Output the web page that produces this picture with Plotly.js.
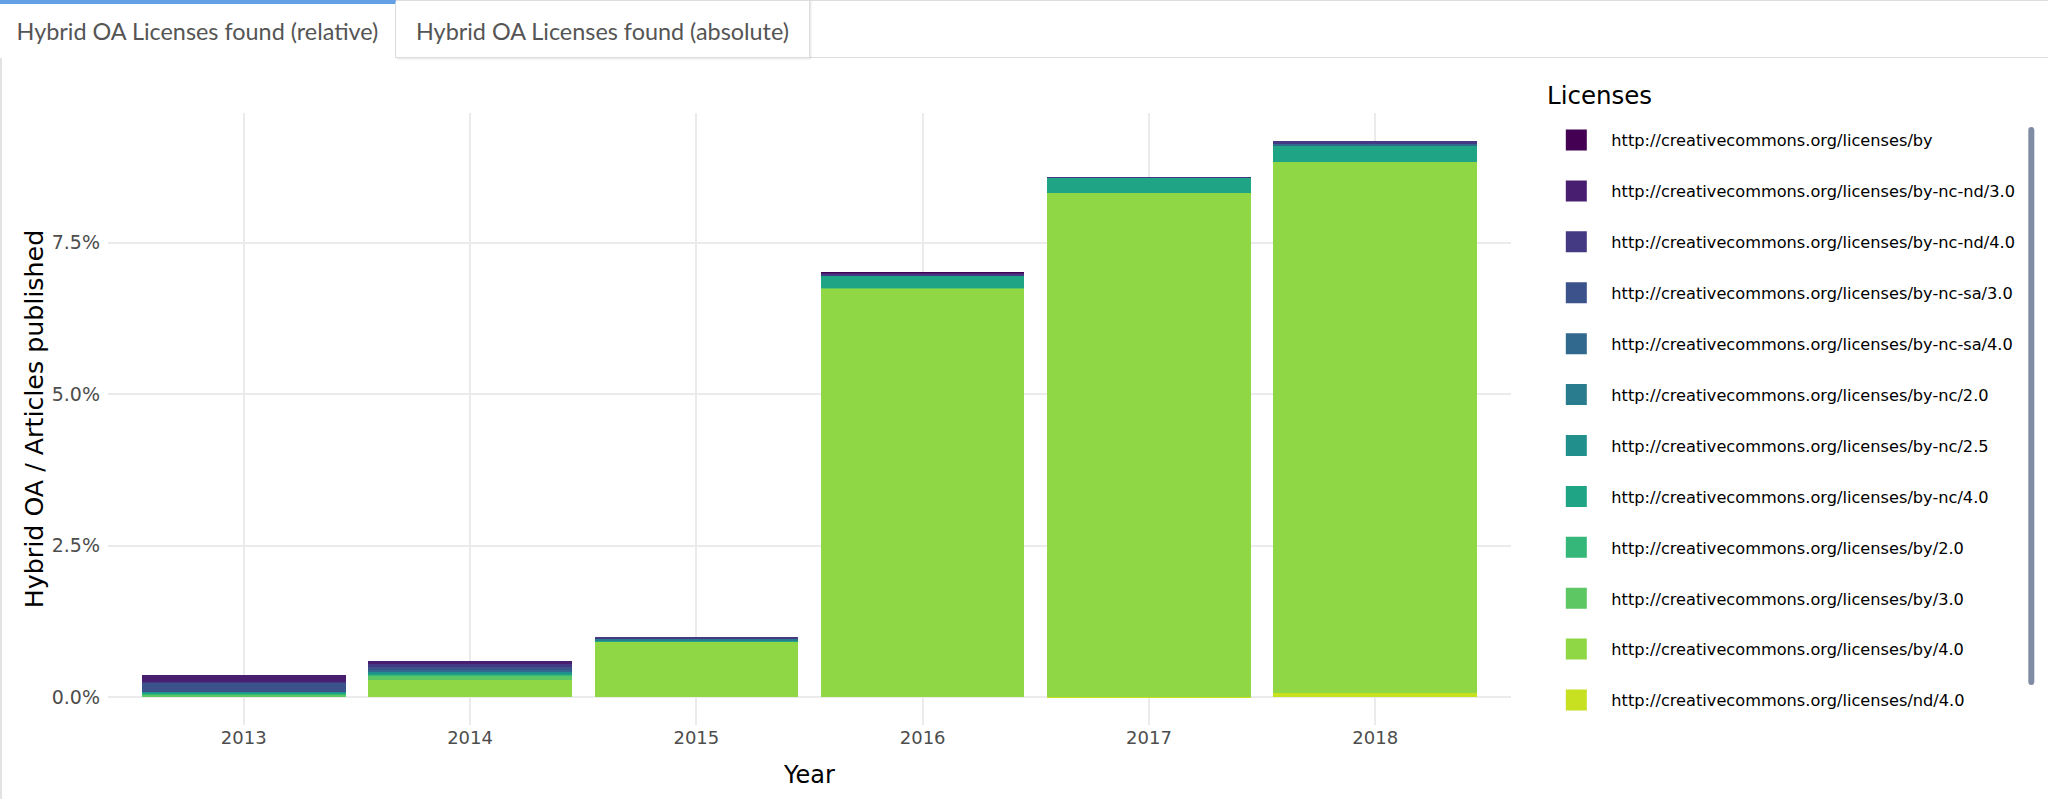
<!DOCTYPE html>
<html>
<head>
<meta charset="utf-8">
<script src="https://cdn.plot.ly/plotly-3.0.1.min.js"></script>
<style>
  html, body { margin:0; padding:0; background:#fff; width:2048px; height:799px; overflow:hidden; }
  #chart { position:absolute; left:0; top:0; width:2048px; height:799px; }
  #tabs { position:absolute; left:0; top:0; width:2048px; height:58px; z-index:10; pointer-events:none; }
  .tab { position:absolute; top:0; height:58px; box-sizing:border-box; font-family:Lato, "Open Sans", sans-serif;
         font-size:23.4px; color:#555; text-align:center; background:#fff; }
  #tab1 { left:0; width:396px; border-top:4px solid #64A0E6; border-right:1px solid #ddd; line-height:54px; }
  #tab2 { left:396px; width:414px; border:1px solid #ddd; border-left:none; height:58px; line-height:60px;
          box-shadow: 1px 1px 2px rgba(0,0,0,0.12); }
  #topline { position:absolute; left:810px; top:0; width:1238px; height:1px; background:#ddd; z-index:9; }
  #botline { position:absolute; left:396px; top:57px; width:1652px; height:1px; background:#ddd; z-index:9; }
  #leftline { position:absolute; left:0; top:58px; width:2px; height:741px; background:#e3e3e3; z-index:9; }
</style>
</head>
<body>
<div id="chart"></div>
<div id="tabs">
  <div class="tab" id="tab1">Hybrid OA Licenses found (relative)</div>
  <div class="tab" id="tab2">Hybrid OA Licenses found (absolute)</div>
</div>
<div id="topline"></div>
<div id="botline"></div>
<div id="leftline"></div>
<script>
// ---- data (share of hybrid OA articles with license, in % of articles published) ----
const years = ['2013', '2014', '2015', '2016', '2017', '2018'];

const licenses = [
  'http://creativecommons.org/licenses/by',
  'http://creativecommons.org/licenses/by-nc-nd/3.0',
  'http://creativecommons.org/licenses/by-nc-nd/4.0',
  'http://creativecommons.org/licenses/by-nc-sa/3.0',
  'http://creativecommons.org/licenses/by-nc-sa/4.0',
  'http://creativecommons.org/licenses/by-nc/2.0',
  'http://creativecommons.org/licenses/by-nc/2.5',
  'http://creativecommons.org/licenses/by-nc/4.0',
  'http://creativecommons.org/licenses/by/2.0',
  'http://creativecommons.org/licenses/by/3.0',
  'http://creativecommons.org/licenses/by/4.0',
  'http://creativecommons.org/licenses/nd/4.0',
  'http://creativecommons.org/publicdomain/zero/1.0'
];

const colors = ['#440154', '#481F70', '#443A83', '#3B528B', '#31688E', '#287C8E', '#21908C',
                '#20A486', '#35B779', '#5DC863', '#8FD744', '#C7E020', '#FDE725'];

const v_by          = [0,     0,     0,     0.01,  0,     0];
const v_bync_nd30   = [0.12,  0.055, 0,     0.01,  0,     0];
const v_bync_nd40   = [0.01,  0.05,  0.015, 0.03,  0.005, 0.035];
const v_bync_sa30   = [0.15,  0.044, 0,     0,     0,     0];
const v_bync_sa40   = [0.005, 0.028, 0,     0.005, 0,     0.035];
const v_bync20      = [0,     0,     0.03,  0,     0,     0];
const v_bync25      = [0.01,  0.028, 0,     0,     0,     0];
const v_bync40      = [0.01,  0.01,  0.01,  0.2,   0.248, 0.27];
const v_by20        = [0.033, 0.04,  0,     0,     0,     0];
const v_by30        = [0.035, 0.055, 0,     0.01,  0,     0];
const v_by40        = [0,     0.287, 0.925, 6.75,  8.31,  8.76];
const v_nd40        = [0,     0,     0,     0,     0.01,  0.07];
const v_zero        = [0,     0,     0,     0,     0,     0];

const values = [v_by, v_bync_nd30, v_bync_nd40, v_bync_sa30, v_bync_sa40, v_bync20, v_bync25,
                v_bync40, v_by20, v_by30, v_by40, v_nd40, v_zero];

const yTickVals = [0, 2.5, 5, 7.5];
const yTickText = ['0.0%', '2.5%', '5.0%', '7.5%'];

// ---- traces ----
const traces = [];
// legend entries (forward order)
licenses.forEach((lic, i) => {
  traces.push({
    type: 'scatter', mode: 'markers', x: [null], y: [null],
    name: lic, legendgroup: lic, showlegend: true, hoverinfo: 'skip',
    marker: { symbol: 'square', size: 16, color: colors[i], line: { color: colors[i], width: 5 } }
  });
});
// bars: last level first so that the first level is stacked on top
for (let i = licenses.length - 1; i >= 0; i--) {
  traces.push({
    type: 'bar', x: years, y: values[i], name: licenses[i], legendgroup: licenses[i],
    showlegend: false, marker: { color: colors[i], line: { width: 0 } }
  });
}

const layout = {
  width: 2048, height: 799,
  margin: { l: 108, r: 537, t: 113, b: 74, pad: 0 },
  paper_bgcolor: '#fff', plot_bgcolor: '#fff',
  barmode: 'stack', bargap: 0.1,
  font: { family: 'DejaVu Sans, Verdana, sans-serif', color: '#000' },
  showlegend: true,
  xaxis: {
    type: 'category', range: [-0.6, 5.6], fixedrange: true, automargin: false,
    showgrid: true, gridcolor: '#EBEBEB', gridwidth: 2, zeroline: false, showline: false,
    ticks: '', tickfont: { size: 18, color: '#4D4D4D' },
    title: { text: 'Year', font: { size: 24, color: '#000' }, standoff: 19 }
  },
  yaxis: {
    range: [-0.459, 9.64], fixedrange: true, automargin: false,
    tickmode: 'array', tickvals: yTickVals, ticktext: yTickText,
    showgrid: true, gridcolor: '#EBEBEB', gridwidth: 2, zeroline: false, showline: false,
    ticks: '', tickfont: { size: 19, color: '#4D4D4D' }, ticklabelstandoff: 7,
    title: { text: 'Hybrid OA / Articles published', font: { size: 25.3, color: '#000' }, standoff: 0 }
  },
  legend: {
    x: 1.0216, xanchor: 'left', y: 0.9837, yanchor: 'top',
    font: { size: 16.2, color: '#000' }, maxheight: 600,
    tracegroupgap: 26.85, itemwidth: 60, bgcolor: 'rgba(0,0,0,0)', borderwidth: 0
  },
  annotations: [{
    text: 'Licenses', xref: 'paper', yref: 'paper', x: (1545 - 108) / 1403, y: (725 - 95) / 612,
    xanchor: 'left', yanchor: 'middle', showarrow: false, font: { size: 24.5, color: '#000' }
  }]
};

Plotly.newPlot('chart', traces, layout, { displayModeBar: false });
</script>
</body>
</html>
